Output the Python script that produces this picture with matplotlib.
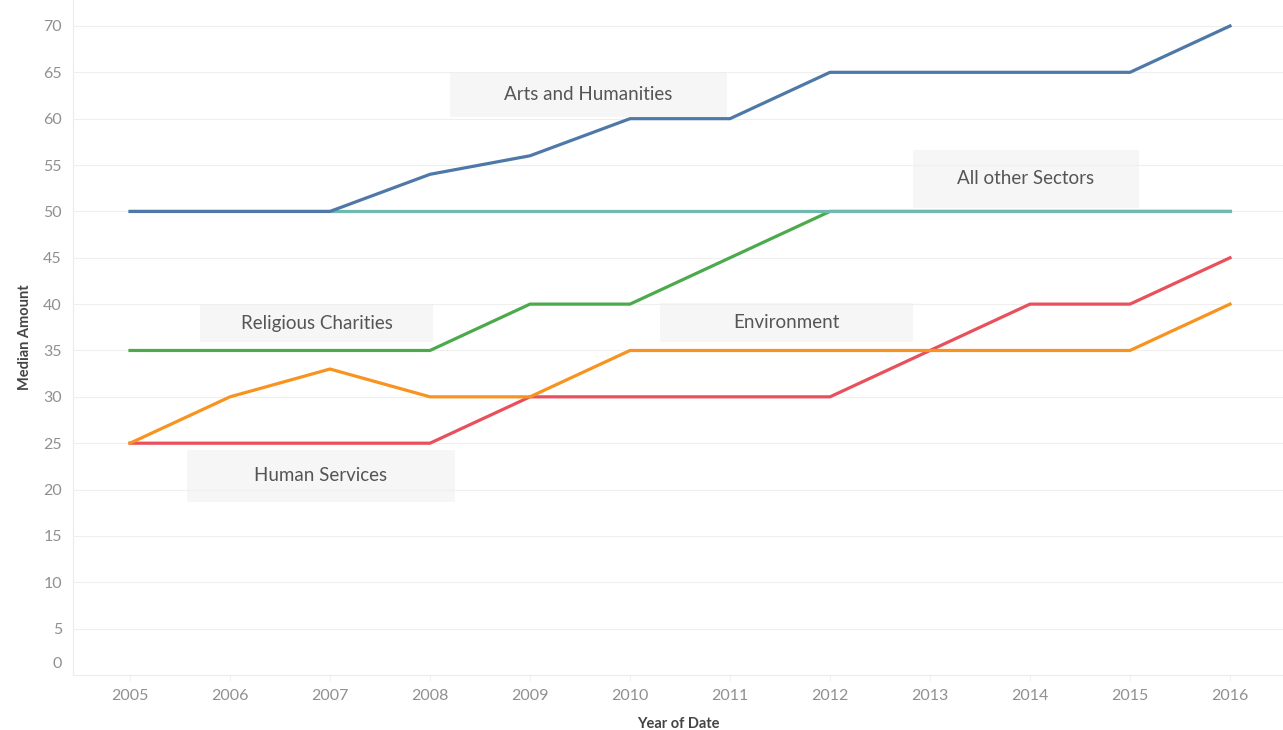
import matplotlib
matplotlib.use("Agg")
import matplotlib.pyplot as plt
import matplotlib.transforms as mtrans
from matplotlib.patches import Rectangle

years = [2005, 2006, 2007, 2008, 2009, 2010, 2011, 2012, 2013, 2014, 2015, 2016]
arts = [50, 50, 50, 54, 56, 60, 60, 65, 65, 65, 65, 70]
other = [50, 50, 50, 50, 50, 50, 50, 50, 50, 50, 50, 50]
religious = [35, 35, 35, 35, 40, 40, 45, 50, 50, 50, 50, 50]
human = [25, 25, 25, 25, 30, 30, 30, 30, 35, 40, 40, 45]
environment = [25, 30, 33, 30, 30, 35, 35, 35, 35, 35, 35, 40]

plt.rcParams['font.family'] = ['Lato', 'DejaVu Sans']

fig = plt.figure(figsize=(12.83, 7.30), dpi=100)
ax = fig.add_axes([73 / 1283, 55 / 730, 1210 / 1283, 675 / 730])

ax.plot(years, religious, color='#4caa4c', lw=2.3, zorder=3)
ax.plot(years, other, color='#6fb9b1', lw=2.3, zorder=4)
ax.plot(years, arts, color='#4e79a7', lw=2.3, zorder=5)
ax.plot(years, human, color='#e8505b', lw=2.3, zorder=3)
ax.plot(years, environment, color='#f7931e', lw=2.3, zorder=4)

ax.set_xlim(2004.43, 2016.53)
ax.set_ylim(0, 72.8)
ax.set_yticks(range(0, 71, 5))
ax.set_xticks(years)
ax.grid(axis='y', color='#efefef', lw=0.8, zorder=0)
for s in ['top', 'right']:
    ax.spines[s].set_visible(False)
ax.spines['left'].set_color('#ececec')
ax.spines['bottom'].set_color('#ececec')
ax.tick_params(axis='y', length=0, labelsize=11.5, labelcolor='#909090', pad=8)
ax.tick_params(axis='x', length=4, color='#f0f0f0', labelsize=11.5, labelcolor='#909090', pad=6)

# tableau pushes the bottom label up off the axis edge
fig.canvas.draw()
lab0 = ax.get_yticklabels()[0]
lab0.set_transform(lab0.get_transform() + mtrans.ScaledTranslation(0, 12 / 100, fig.dpi_scale_trans))

ax.set_xlabel('Year of Date', fontsize=10.5, color='#444444', fontweight='bold', labelpad=10)
ax.set_ylabel('Median Amount', fontsize=10.5, color='#444444', fontweight='bold', labelpad=8)

# label boxes: (text, box x0, box y0, width, height)
labels = [
    ('Arts and Humanities', 2008.2, 60.2, 2.77, 4.85),
    ('All other Sectors', 2012.83, 50.4, 2.26, 6.2),
    ('Religious Charities', 2005.7, 35.9, 2.33, 4.1),
    ('Environment', 2010.3, 35.9, 2.53, 4.2),
    ('Human Services', 2005.57, 18.7, 2.68, 5.6),
]
for txt, x0, y0, w, h in labels:
    ax.add_patch(Rectangle((x0, y0), w, h, facecolor='#f6f6f6', edgecolor='none', zorder=1))
    ax.text(x0 + w / 2, y0 + h / 2, txt, ha='center', va='center', fontsize=13.5,
            color='#555555', zorder=2)

fig.savefig('out.png', dpi=100)
